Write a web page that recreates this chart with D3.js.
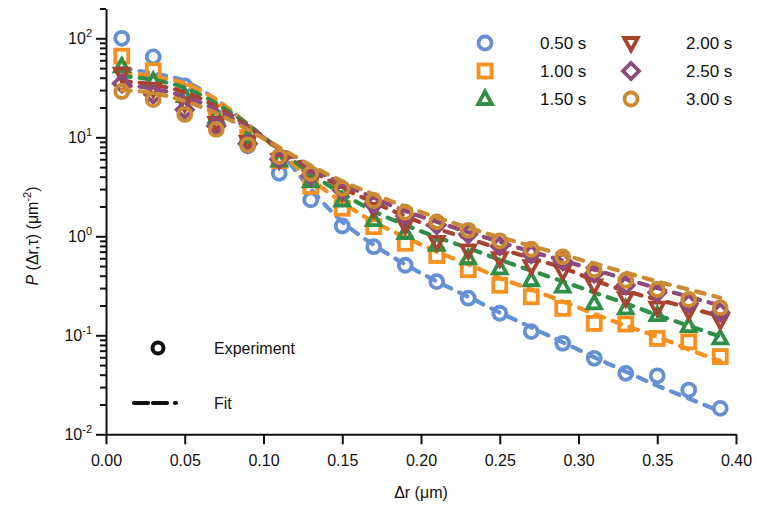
<!DOCTYPE html>
<html>
<head>
<meta charset="utf-8">
<script src="https://cdn.jsdelivr.net/npm/d3@7"></script>
<style>
  html, body { margin: 0; padding: 0; background: #fff; }
  svg { display: block; }
  text { font-family: "Liberation Sans", Arial, sans-serif; fill: #111; }
</style>
</head>
<body>
<svg id="chart" width="757" height="519"></svg>
<script>
// ---------------- data ----------------
const xValues = [0.01,0.03,0.05,0.07,0.09,0.11,0.13,0.15,0.17,0.19,0.21,0.23,0.25,0.27,0.29,0.31,0.33,0.35,0.37,0.39];
const seriesLabels = ["0.50 s","1.00 s","1.50 s","2.00 s","2.50 s","3.00 s"];
const seriesColors = ["#6690d5","#f7901e","#2f8f48","#a8432f","#8d4a7c","#cc8a33"];
const seriesShapes = ["circle","square","triangleUp","triangleDown","diamond","circle"];

// experiment
const exp050 = [100,65,33,16,8.2,4.33,2.33,1.27,0.785,0.51,0.348,0.237,0.167,0.109,0.083,0.0586,0.0413,0.039,0.028,0.0183];
const exp100 = [66,47,29,18,10,5.8,3.2,1.92,1.25,0.85,0.64,0.46,0.32,0.245,0.187,0.132,0.13,0.093,0.086,0.061];
const exp150 = [52,37,26,16,10,5.8,3.6,2.3,1.46,1.08,0.82,0.6,0.475,0.36,0.31,0.21,0.187,0.16,0.124,0.093];
const exp200 = [44,31,22,14,9,5.9,4.0,2.8,1.9,1.3,0.88,0.72,0.6,0.5,0.44,0.32,0.237,0.19,0.175,0.14];
const exp250 = [35,27,19,13,8.6,6.0,4.1,2.9,2.1,1.6,1.3,1.05,0.8,0.66,0.56,0.42,0.32,0.27,0.21,0.17];
const exp300 = [29,24,17,12,8.4,6.4,4.3,3.05,2.3,1.75,1.4,1.15,0.9,0.74,0.62,0.46,0.36,0.29,0.23,0.19];

// fits
const fit050 = [50,44,37,24,13.5,7.2,3.0,1.4,0.82,0.52,0.35,0.245,0.17,0.12,0.085,0.06,0.043,0.031,0.023,0.017];
const fit100 = [46,41,35,24,13.5,7.2,3.8,2.2,1.4,0.98,0.7,0.52,0.38,0.29,0.22,0.165,0.125,0.097,0.072,0.055];
const fit150 = [41.6,38,31.7,22,13.5,7.5,4.3,2.7,1.8,1.3,0.98,0.76,0.58,0.45,0.35,0.27,0.21,0.16,0.125,0.097];
const fit200 = [37,34,28.5,20.5,13,7.6,4.7,3.1,2.2,1.6,1.2,0.95,0.75,0.6,0.48,0.36,0.28,0.23,0.19,0.155];
const fit250 = [33.7,31,25.7,19,12.5,7.8,5.0,3.4,2.45,1.8,1.4,1.1,0.88,0.7,0.57,0.46,0.37,0.3,0.245,0.2];
const fit300 = [30,28,23.2,17.5,12,7.9,5.2,3.6,2.65,2.0,1.55,1.22,0.98,0.8,0.65,0.53,0.43,0.35,0.29,0.24];

const expSeries = [exp050,exp100,exp150,exp200,exp250,exp300];
const fitSeries = [fit050,fit100,fit150,fit200,fit250,fit300];

const xTickValues = [0,0.05,0.1,0.15,0.2,0.25,0.3,0.35,0.4];
const xTickLabels = ["0.00","0.05","0.10","0.15","0.20","0.25","0.30","0.35","0.40"];
const yMajorTicks = [0.01,0.1,1,10,100];
const yMajorExps = ["-2","-1","0","1","2"];

// ---------------- drawing ----------------
const svg = d3.select("#chart");
const x = d3.scaleLinear().domain([0, 0.4]).range([106, 736]);
const y = d3.scaleLog().domain([0.01, 200]).range([434.3, 8.5]);

// minor ticks
const yMinor = [];
[0.01,0.1,1,10].forEach(d => { for (let k = 2; k <= 9; k++) yMinor.push(d*k); });
yMinor.push(200);

const axisStroke = 2;
// y axis
const gy = svg.append("g").attr("transform", `translate(${x(0)},0)`);
gy.call(d3.axisLeft(y).tickValues(yMajorTicks).tickSize(10).tickSizeOuter(0).tickFormat(""));
const gyMinor = svg.append("g").attr("transform", `translate(${x(0)},0)`);
gyMinor.call(d3.axisLeft(y).tickValues(yMinor).tickSize(6).tickSizeOuter(0).tickFormat(""));
gyMinor.select(".domain").remove();
[gy, gyMinor].forEach(g => {
  g.selectAll("line").attr("stroke", "#111").attr("stroke-width", axisStroke);
  g.selectAll(".domain").attr("stroke", "#111").attr("stroke-width", axisStroke);
});
// y labels
const yl = svg.append("g");
yMajorTicks.forEach((v, i) => {
  const t = yl.append("text")
    .attr("x", x(0) - 14).attr("y", y(v) + 5.5)
    .attr("text-anchor", "end").attr("font-size", 16);
  t.append("tspan").text("10");
  t.append("tspan").attr("dy", -7).attr("font-size", 11).text(yMajorExps[i]);
});

// x axis
const gx = svg.append("g").attr("transform", `translate(0,${y(0.01)})`);
gx.call(d3.axisBottom(x).tickValues(xTickValues).tickSize(10).tickSizeOuter(0)
  .tickFormat((d, i) => xTickLabels[i]));
gx.selectAll("line").attr("stroke", "#111").attr("stroke-width", axisStroke);
gx.select(".domain").attr("stroke", "#111").attr("stroke-width", axisStroke);
gx.selectAll("text").attr("font-size", 16).attr("dy", "0.75em").attr("y", 20)
  .style("font-family", '"Liberation Sans", Arial, sans-serif').attr("fill", "#111");

// axis titles
svg.append("text").attr("x", 421).attr("y", 498).attr("text-anchor", "middle")
  .attr("font-size", 16).text("Δr (μm)");
const yt = svg.append("text")
  .attr("transform", "translate(38,236) rotate(-90)")
  .attr("text-anchor", "middle").attr("font-size", 16);
yt.append("tspan").attr("font-style", "italic").text("P");
yt.append("tspan").text(" (Δr,τ) (μm");
yt.append("tspan").attr("dy", -7).attr("font-size", 11).text("-2");
yt.append("tspan").attr("dy", 7).text(")");

// marker drawing
function drawMarker(g, shape, cx, cy, color, sw) {
  const s = 6.5;
  if (shape === "circle") {
    g.append("circle").attr("cx", cx).attr("cy", cy).attr("r", s)
      .attr("fill", "none").attr("stroke", color).attr("stroke-width", sw);
  } else if (shape === "square") {
    g.append("rect").attr("x", cx - s).attr("y", cy - s).attr("width", 2*s).attr("height", 2*s)
      .attr("fill", "none").attr("stroke", color).attr("stroke-width", sw);
  } else {
    let pts;
    if (shape === "triangleUp") pts = [[0,-7.5],[6.8,5],[-6.8,5]];
    else if (shape === "triangleDown") pts = [[0,7.5],[6.8,-5],[-6.8,-5]];
    else pts = [[0,-8],[8,0],[0,8],[-8,0]];
    g.append("path")
      .attr("d", "M" + pts.map(p => [cx + p[0], cy + p[1]].join(",")).join("L") + "Z")
      .attr("fill", "none").attr("stroke", color).attr("stroke-width", sw)
      .attr("stroke-linejoin", "miter");
  }
}

const line = d3.line().x(d => x(d[0])).y(d => y(d[1])).curve(d3.curveMonotoneX);
const plot = svg.append("g");
seriesLabels.forEach((lab, si) => {
  const g = plot.append("g");
  const col = seriesColors[si];
  expSeries[si].forEach((v, i) => drawMarker(g, seriesShapes[si], x(xValues[i]), y(v), col, 3.8));
  g.append("path").datum(xValues.map((xv, i) => [xv, fitSeries[si][i]]))
    .attr("d", line).attr("fill", "none").attr("stroke", col)
    .attr("stroke-width", 4.2).attr("stroke-dasharray", "9,9").attr("stroke-linecap", "round");
});

// legend (top right)
const legRowsY = [43, 71, 99];
const legColX = [485, 631];
const legTextX = [540, 686];
seriesLabels.forEach((lab, si) => {
  const c = Math.floor(si / 3), r = si % 3;
  const g = svg.append("g");
  drawMarker(g, seriesShapes[si], legColX[c], legRowsY[r], seriesColors[si], 3.8);
  g.append("text").attr("x", legTextX[c]).attr("y", legRowsY[r] + 6).attr("font-size", 17).text(lab);
});

// legend (bottom left)
const lg = svg.append("g");
lg.append("circle").attr("cx", 158).attr("cy", 348).attr("r", 5.5)
  .attr("fill", "none").attr("stroke", "#111").attr("stroke-width", 4);
lg.append("text").attr("x", 214).attr("y", 354).attr("font-size", 16).text("Experiment");
lg.append("line").attr("x1", 134).attr("x2", 182).attr("y1", 403).attr("y2", 403)
  .attr("stroke", "#111").attr("stroke-width", 4.2).attr("stroke-dasharray", "14,5,14,8,1,20")
  .attr("stroke-linecap", "round");
lg.append("text").attr("x", 214).attr("y", 409).attr("font-size", 16).text("Fit");
</script>
</body>
</html>
